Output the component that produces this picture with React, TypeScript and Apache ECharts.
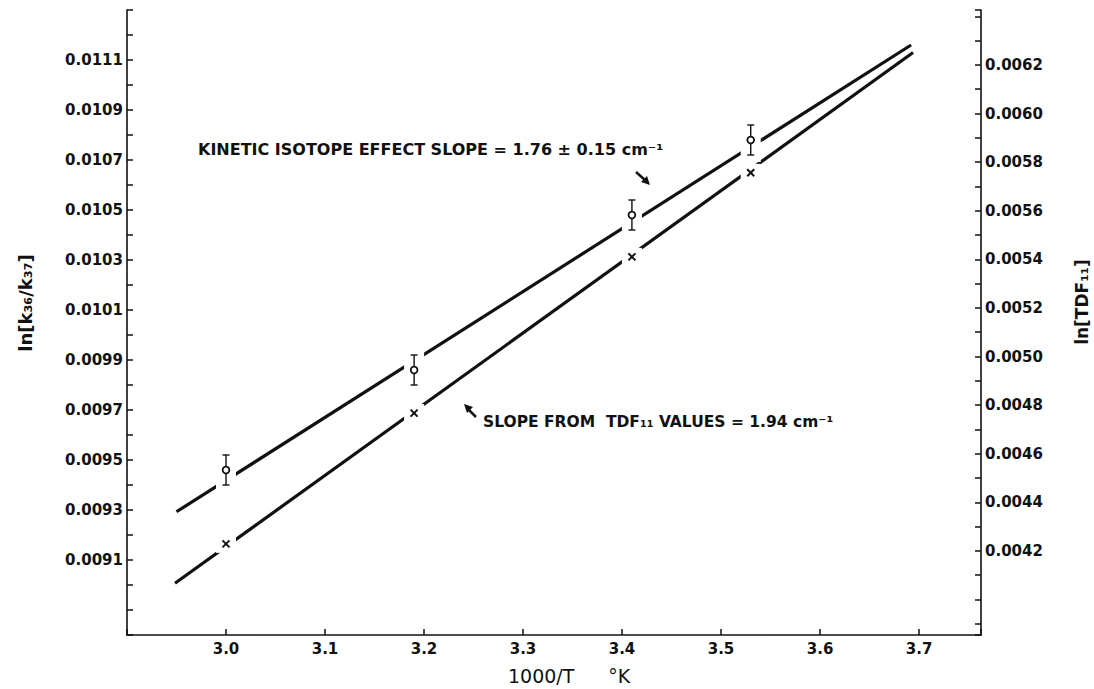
import React, { useEffect, useRef } from "react";
import * as echarts from "echarts";

// ---- data ----
const xTickLabels = ["3.0", "3.1", "3.2", "3.3", "3.4", "3.5", "3.6", "3.7"];
const leftTickLabels = ["0.0091", "0.0093", "0.0095", "0.0097", "0.0099", "0.0101", "0.0103", "0.0105", "0.0107", "0.0109", "0.0111"];
const rightTickLabels = ["0.0042", "0.0044", "0.0046", "0.0048", "0.0050", "0.0052", "0.0054", "0.0056", "0.0058", "0.0060", "0.0062"];

const temps = [3.0, 3.19, 3.41, 3.53];
const kieValues = [0.00946, 0.00986, 0.01048, 0.01078];
const kieErrors = [0.00006, 0.00006, 0.00006, 0.00006];
const tdfValues = [0.004229, 0.004767, 0.00541, 0.005756];

const kieFitX = [2.95, 3.692];
const kieFitY = [0.009293, 0.01116];
const tdfFitX = [2.9485, 3.694];
const tdfFitY = [0.004067, 0.006251];

const FONT = '"DejaVu Sans", sans-serif';

export default function App() {
  const ref = useRef<HTMLDivElement>(null);
  useEffect(() => {
    if (!ref.current) return;
    const chart = echarts.init(ref.current, null, { renderer: "svg" });
    const black = "#111";
    const axisCommon = {
      axisLine: { show: true, lineStyle: { color: black, width: 1.6 } },
      axisTick: { show: true, inside: true, length: 6, lineStyle: { color: black, width: 1.5 } },
      splitLine: { show: false },
    };
    const labelStyle = { color: black, fontFamily: FONT, fontWeight: "bold" as const, fontSize: 15 };

    const maskItem = (w: number, h: number) => (params: any, api: any) => {
      const c = api.coord([api.value(0), api.value(1)]);
      return {
        type: "rect",
        shape: { x: c[0] - w / 2, y: c[1] - h / 2, width: w, height: h },
        style: { fill: "#fff" },
      };
    };

    const option: any = {
      animation: false,
      backgroundColor: "#fff",
      grid: { left: 127, right: 113, top: 10, bottom: 54 },
      xAxis: {
        type: "value",
        min: 2.9,
        max: 3.7626,
        interval: 0.1,
        ...axisCommon,
        axisLabel: {
          ...labelStyle,
          margin: 6,
          formatter: (v: number) => (xTickLabels.includes(v.toFixed(1)) && Math.abs(v * 10 - Math.round(v * 10)) < 1e-6 ? v.toFixed(1) : ""),
        },
      },
      yAxis: [
        {
          type: "value",
          position: "left",
          min: 0.0088,
          max: 0.0113,
          interval: 0.0001,
          ...axisCommon,
          axisLabel: {
            ...labelStyle,
            margin: 4,
            formatter: (v: number) => {
              const s = v.toFixed(4);
              return leftTickLabels.includes(s) && Math.abs(v * 10000 - Math.round(v * 10000)) < 1e-4 ? s : "";
            },
          },
        },
        {
          type: "value",
          position: "right",
          min: 0.003854,
          max: 0.006426,
          splitNumber: 25,
          minInterval: 0.0001,
          maxInterval: 0.0001,
          ...axisCommon,
          axisLabel: {
            ...labelStyle,
            margin: 4,
            formatter: (v: number) => {
              const s = v.toFixed(4);
              return rightTickLabels.includes(s) && Math.abs(v * 10000 - Math.round(v * 10000)) < 1e-4 ? s : "";
            },
          },
        },
      ],
      series: [
        {
          type: "line",
          yAxisIndex: 0,
          data: kieFitX.map((x, i) => [x, kieFitY[i]]),
          showSymbol: false,
          lineStyle: { color: black, width: 3.2 },
          z: 2,
        },
        {
          type: "line",
          yAxisIndex: 1,
          data: tdfFitX.map((x, i) => [x, tdfFitY[i]]),
          showSymbol: false,
          lineStyle: { color: black, width: 3.2 },
          z: 2,
        },
        {
          type: "custom",
          yAxisIndex: 0,
          z: 3,
          encode: { x: 0, y: 1 },
          data: temps.map((t, i) => [t, kieValues[i]]),
          renderItem: maskItem(20, 44),
        },
        {
          type: "custom",
          yAxisIndex: 1,
          z: 3,
          encode: { x: 0, y: 1 },
          data: temps.map((t, i) => [t, tdfValues[i]]),
          renderItem: maskItem(20, 18),
        },
        {
          type: "custom",
          yAxisIndex: 0,
          z: 4,
          encode: { x: 0, y: 1 },
          data: temps.map((t, i) => [t, kieValues[i], kieErrors[i]]),
          renderItem: (params: any, api: any) => {
            const x = api.value(0);
            const y = api.value(1);
            const e = api.value(2);
            const c = api.coord([x, y]);
            const t = api.coord([x, y + e]);
            const b = api.coord([x, y - e]);
            const r = 3.4;
            const ls = { stroke: black, lineWidth: 1.4 };
            return {
              type: "group",
              children: [
                { type: "line", shape: { x1: c[0], y1: t[1], x2: c[0], y2: c[1] - r }, style: ls },
                { type: "line", shape: { x1: c[0], y1: c[1] + r, x2: c[0], y2: b[1] }, style: ls },
                { type: "line", shape: { x1: c[0] - 3.5, y1: t[1], x2: c[0] + 3.5, y2: t[1] }, style: ls },
                { type: "line", shape: { x1: c[0] - 3.5, y1: b[1], x2: c[0] + 3.5, y2: b[1] }, style: ls },
                { type: "circle", shape: { cx: c[0], cy: c[1], r }, style: { fill: "#fff", stroke: black, lineWidth: 1.8 } },
              ],
            };
          },
        },
        {
          type: "custom",
          yAxisIndex: 1,
          z: 4,
          encode: { x: 0, y: 1 },
          data: temps.map((t, i) => [t, tdfValues[i]]),
          renderItem: (params: any, api: any) => {
            const c = api.coord([api.value(0), api.value(1)]);
            const d = 3.5;
            const ls = { stroke: black, lineWidth: 2 };
            return {
              type: "group",
              children: [
                { type: "line", shape: { x1: c[0] - d, y1: c[1] - d, x2: c[0] + d, y2: c[1] + d }, style: ls },
                { type: "line", shape: { x1: c[0] - d, y1: c[1] + d, x2: c[0] + d, y2: c[1] - d }, style: ls },
              ],
            };
          },
        },
      ],
      graphic: [
        {
          type: "text",
          x: 198,
          y: 149,
          style: {
            text: "KINETIC ISOTOPE EFFECT SLOPE = 1.76 ± 0.15 cm⁻¹",
            font: `bold 16px ${FONT}`,
            fill: black,
            align: "left",
            verticalAlign: "middle",
          },
        },
        {
          type: "text",
          x: 483,
          y: 422,
          style: {
            text: "SLOPE FROM  TDF₁₁ VALUES = 1.94 cm⁻¹",
            font: `bold 15.5px ${FONT}`,
            fill: black,
            align: "left",
            verticalAlign: "middle",
          },
        },
        // arrow toward upper line
        { type: "line", shape: { x1: 636, y1: 172, x2: 645, y2: 180 }, style: { stroke: black, lineWidth: 2.5 } },
        { type: "polygon", shape: { points: [[650, 185], [641, 182], [647, 176]] }, style: { fill: black } },
        // arrow toward lower line
        { type: "line", shape: { x1: 476, y1: 417, x2: 469, y2: 410 }, style: { stroke: black, lineWidth: 2.5 } },
        { type: "polygon", shape: { points: [[464, 404], [473, 407], [467, 413]] }, style: { fill: black } },
        // axis titles
        {
          type: "text",
          x: 25,
          y: 303,
          rotation: Math.PI / 2,
          style: {
            text: "ln[k₃₆/k₃₇]",
            font: `bold 18px ${FONT}`,
            fill: black,
            align: "center",
            verticalAlign: "middle",
          },
        },
        {
          type: "text",
          x: 1082,
          y: 302,
          rotation: Math.PI / 2,
          style: {
            text: "ln[TDF₁₁]",
            font: `bold 17px ${FONT}`,
            fill: black,
            align: "center",
            verticalAlign: "middle",
          },
        },
        {
          type: "text",
          x: 508,
          y: 676,
          style: {
            text: "{a|1000/T}{b|°K}",
            fill: black,
            align: "left",
            verticalAlign: "middle",
            rich: {
              a: { font: `19px ${FONT}`, fill: black, padding: [0, 34, 0, 0] },
              b: { font: `19px ${FONT}`, fill: black },
            },
          },
        },
      ],
    };
    chart.setOption(option);
    return () => chart.dispose();
  }, []);
  return (
    <div
      ref={ref}
      style={{ position: "absolute", left: 0, top: 0, width: 1094, height: 689, background: "#fff" }}
    />
  );
}
